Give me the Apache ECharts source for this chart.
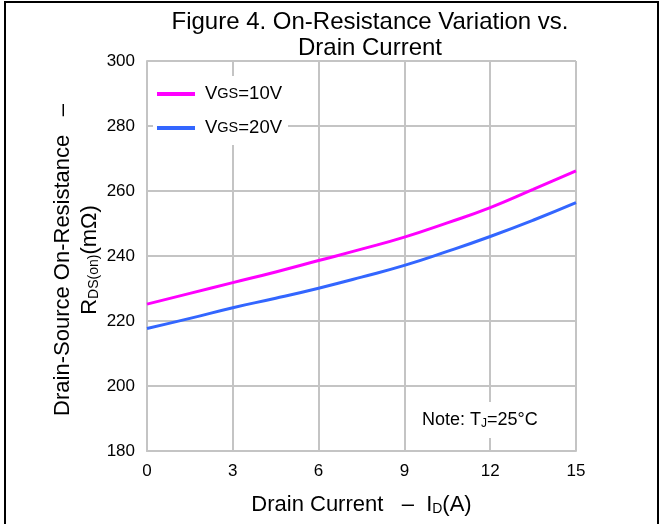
<!DOCTYPE html>
<html>
<head>
<meta charset="utf-8">
<script src="https://cdn.jsdelivr.net/npm/echarts@6/dist/echarts.min.js"></script>
<style>
html,body{margin:0;padding:0;background:#fff;}
#c{width:663px;height:524px;}
</style>
</head>
<body>
<div id="c"></div>
<script>
// Data
const current = [0, 1.5, 3, 4.5, 6, 7.5, 9, 10.5, 12, 13.5, 15];          // I_D (A)
const rdsVgs10 = [225.2, 228.5, 231.8, 235.1, 238.6, 242.1, 245.8, 250.2, 254.9, 260.5, 266.2]; // mΩ
const rdsVgs20 = [217.7, 220.8, 224.1, 227.0, 230.1, 233.5, 237.1, 241.4, 246.0, 251.0, 256.4]; // mΩ
const seriesNames = ['VGS=10V', 'VGS=20V'];
const legendParts = { 'VGS=10V': '=10V', 'VGS=20V': '=20V' };

const FONT = '"Liberation Sans", Arial, sans-serif';
const GRID = '#c4c4c4';

const chart = echarts.init(document.getElementById('c'), null, { renderer: 'canvas' });

const pairs = arr => current.map((x, i) => [x, arr[i]]);

chart.setOption({
  backgroundColor: '#fff',
  animation: false,
  title: {
    text: 'Figure 4. On-Resistance Variation vs.\nDrain Current',
    left: 365, top: 4, textAlign: 'center',
    textStyle: { fontFamily: FONT, fontSize: 24, fontWeight: 'normal', color: '#000', lineHeight: 26 }
  },
  grid: { left: 147, right: 87, top: 61, bottom: 73, containLabel: false },
  legend: {
    orient: 'vertical', left: 153, top: 76,
    backgroundColor: '#fff',
    padding: [8, 6, 7, 4],
    itemGap: 14, itemWidth: 38, itemHeight: 4, icon: 'rect',
    data: seriesNames,
    formatter: name => '{v|V}{s|GS}{v|' + legendParts[name] + '}',
    textStyle: {
      fontFamily: FONT, color: '#000', fontSize: 18.5, lineHeight: 20, padding: [0, 0, 0, 5],
      rich: {
        v: { fontFamily: FONT, fontSize: 18.5, color: '#000', lineHeight: 20 },
        s: { fontFamily: FONT, fontSize: 14.5, color: '#000', lineHeight: 20 }
      }
    }
  },
  xAxis: {
    type: 'value', min: 0, max: 15, interval: 3,
    name: 'Drain Current   –  {i|I}{sub|D}{i|(A)}',
    nameLocation: 'middle', nameGap: 43,
    nameTextStyle: {
      fontFamily: FONT, fontSize: 22, color: '#000',
      rich: {
        i: { fontFamily: FONT, fontSize: 22, color: '#000' },
        sub: { fontFamily: FONT, fontSize: 14, color: '#000', verticalAlign: 'bottom', padding: [8, 0, 0, 0] }
      }
    },
    axisLine: { show: true, lineStyle: { color: GRID, width: 2 } },
    axisTick: { show: false },
    splitLine: { show: true, lineStyle: { color: GRID, width: 2 } },
    axisLabel: { fontFamily: FONT, fontSize: 17, color: '#000', margin: 12 }
  },
  yAxis: {
    type: 'value', min: 180, max: 300, interval: 20,
    axisLine: { show: true, lineStyle: { color: GRID, width: 2 } },
    axisTick: { show: false },
    splitLine: { show: true, lineStyle: { color: GRID, width: 2 } },
    axisLabel: { fontFamily: FONT, fontSize: 17, color: '#000', margin: 12 }
  },
  series: [
    {
      name: seriesNames[0], type: 'line', data: pairs(rdsVgs10), smooth: true,
      showSymbol: false, symbol: 'none', color: '#ff00ff',
      lineStyle: { color: '#ff00ff', width: 3 }, z: 3
    },
    {
      name: seriesNames[1], type: 'line', data: pairs(rdsVgs20), smooth: true,
      showSymbol: false, symbol: 'none', color: '#3366ff',
      lineStyle: { color: '#3366ff', width: 3 }, z: 3
    }
  ],
  graphic: [
    {
      type: 'rect', z: 100, silent: true,
      shape: { x: 5, y: 2, width: 653, height: 560 },
      style: { fill: 'none', stroke: '#000', lineWidth: 2 }
    },
    {
      type: 'text', z: 50, x: 76, y: 260, rotation: Math.PI / 2, silent: true,
      style: {
        text: '{a|Drain-Source On-Resistance   –}\n{a|R}{s|DS(on)}{a|(mΩ)}',
        align: 'center', verticalAlign: 'middle',
        rich: {
          a: { fontFamily: FONT, fontSize: 22, fill: '#000', lineHeight: 27, align: 'center' },
          s: { fontFamily: FONT, fontSize: 14, fill: '#000', lineHeight: 27, padding: [10, 0, 0, 0] }
        }
      }
    },
    {
      type: 'text', z: 50, left: 414, top: 402, silent: true,
      style: {
        text: '{n|Note: T}{s|J}{n|=25°C}',
        backgroundColor: '#fff', padding: [7, 8, 7, 8],
        rich: {
          n: { fontFamily: FONT, fontSize: 18, fill: '#000', lineHeight: 22 },
          s: { fontFamily: FONT, fontSize: 12, fill: '#000', lineHeight: 22, padding: [7, 0, 0, 0] }
        }
      }
    }
  ]
});
</script>
</body>
</html>
